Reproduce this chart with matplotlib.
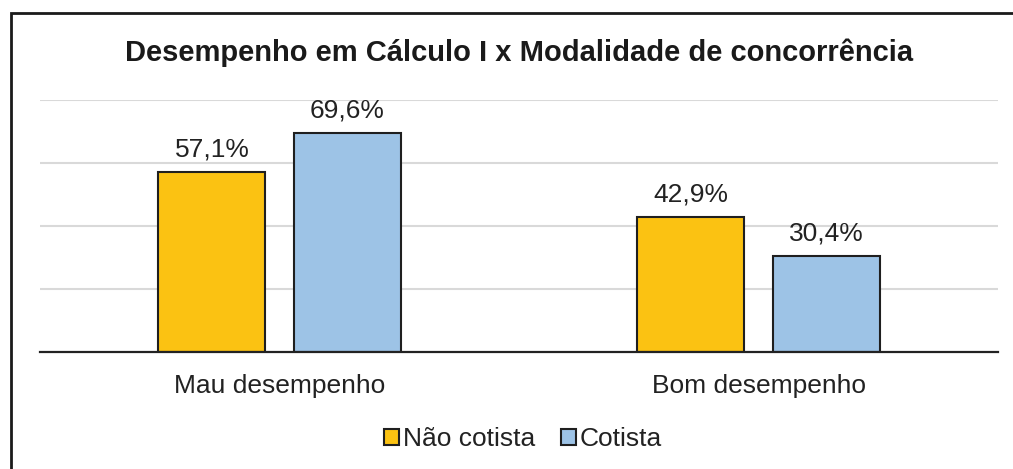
import matplotlib
matplotlib.use('Agg')
import matplotlib.pyplot as plt
from matplotlib.patches import Patch, Rectangle

plt.rcParams['font.family'] = ['Liberation Sans', 'DejaVu Sans']

# data
categories = ['Mau desempenho', 'Bom desempenho']
series = ['Não cotista', 'Cotista']
nao_cotista = [57.1, 42.9]
cotista = [69.6, 30.4]
colors = ['#FBC212', '#9DC3E6']
title = 'Desempenho em Cálculo I x Modalidade de concorrência'

fig = plt.figure(figsize=(10.13, 4.69), dpi=100)
ax = fig.add_axes([40 / 1013, 117 / 469, 958 / 1013, 252 / 469])

width = 0.2234
off = 0.141
x = range(len(categories))
for vals, col, sgn in [(nao_cotista, colors[0], -1), (cotista, colors[1], 1)]:
    pos = [i + sgn * off for i in x]
    bars = ax.bar(pos, vals, width=width, color=col, edgecolor='#1f1f1f',
                  linewidth=1.5, zorder=3)
    for b, v in zip(bars, vals):
        ax.annotate(f'{v:.1f}'.replace('.', ',') + '%',
                    (b.get_x() + b.get_width() / 2, v),
                    xytext=(0, 11), textcoords='offset points',
                    ha='center', va='baseline', fontsize=19, color='#222222')

ax.set_xlim(-0.5, 1.5)
ax.set_ylim(0, 80)
ax.set_yticks([20, 40, 60, 80])
ax.yaxis.grid(True, color='#D9D9D9', linewidth=1.5, zorder=0)
ax.tick_params(axis='y', left=False, labelleft=False)
ax.set_xticks(list(x))
ax.set_xticklabels(categories, fontsize=19, color='#222222')
ax.tick_params(axis='x', bottom=False, pad=12)
for s in ['top', 'right', 'left']:
    ax.spines[s].set_visible(False)
ax.spines['bottom'].set_color('#222222')
ax.spines['bottom'].set_linewidth(1.6)
ax.spines['bottom'].set_zorder(4)

fig.text(519 / 1013, 1 - 53 / 469, title, ha='center', va='center',
         fontsize=21, fontweight='bold', color='#1a1a1a')

handles = [Patch(facecolor=c, edgecolor='#1f1f1f', linewidth=1.5) for c in colors]
fig.legend(handles, series, loc='center', bbox_to_anchor=(523 / 1013, 1 - 439 / 469),
           ncol=2, frameon=False, fontsize=19, handlelength=0.55, handleheight=0.55,
           handletextpad=0.15, columnspacing=1.0, labelcolor='#222222')

# outer frame, running off the right and bottom edges
fig.patches.append(Rectangle((11 / 1013, -0.1), 1.2, 1 - 13 / 469 + 0.1,
                             transform=fig.transFigure, fill=False,
                             edgecolor='#1a1a1a', linewidth=2))

fig.savefig('out.png', dpi=100)
